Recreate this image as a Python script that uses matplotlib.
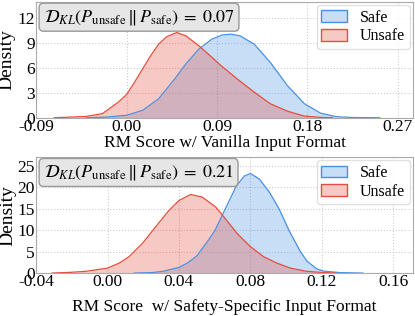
import matplotlib
matplotlib.use('Agg')
import matplotlib.pyplot as plt
from matplotlib.patches import Patch

plt.rcParams['font.family'] = 'serif'
plt.rcParams['font.serif'] = ['Liberation Serif', 'DejaVu Serif']
plt.rcParams['mathtext.fontset'] = 'stix'
plt.rcParams['axes.unicode_minus'] = False

# density curves
top_safe_x = [-0.04, -0.02, 0.0, 0.016, 0.032, 0.048, 0.059, 0.072, 0.085, 0.095,
              0.104, 0.113, 0.127, 0.143, 0.160, 0.177, 0.193, 0.209, 0.226, 0.252]
top_safe_y = [0, 0.08, 0.3, 0.9, 2.3, 4.7, 6.5, 8.3, 9.5, 10.0,
              10.1, 9.9, 8.9, 6.7, 3.9, 1.7, 0.56, 0.12, 0.03, 0]
top_unsafe_x = [-0.072, -0.04, -0.024, -0.008, 0.0, 0.008, 0.016, 0.024, 0.032, 0.040, 0.050,
                0.059, 0.072, 0.085, 0.094, 0.110, 0.127, 0.143, 0.160, 0.177, 0.193, 0.205]
top_unsafe_y = [0, 0.16, 0.5, 1.9, 2.8, 4.3, 5.9, 7.5, 8.9, 9.8, 10.3,
                9.9, 8.7, 7.3, 6.3, 4.7, 3.1, 1.7, 0.8, 0.2, 0.05, 0]

bot_safe_x = [0.015, 0.025, 0.031, 0.040, 0.045, 0.050, 0.055, 0.060, 0.066, 0.072, 0.0766, 0.080,
              0.085, 0.0907, 0.096, 0.102, 0.108, 0.1116, 0.117, 0.121, 0.130, 0.1395, 0.143]
bot_safe_y = [0, 0.1, 0.4, 1.3, 2.4, 4.0, 6.8, 9.8, 15.0, 20.2, 22.6, 23.2,
              21.9, 18.8, 15.0, 9.6, 5.0, 2.8, 1.0, 0.45, 0.1, 0.02, 0]
bot_unsafe_x = [-0.031, -0.021, -0.012, 0.0, 0.0065, 0.012, 0.0195, 0.027, 0.0344, 0.040, 0.0465,
                0.053, 0.0605, 0.0655, 0.0726, 0.080, 0.0874, 0.0949, 0.1023, 0.1116, 0.121, 0.128]
bot_unsafe_y = [0, 0.15, 0.4, 1.15, 2.3, 3.8, 6.9, 10.8, 14.6, 16.9, 18.3,
                17.7, 15.4, 12.9, 9.2, 6.15, 3.8, 2.3, 1.15, 0.4, 0.1, 0]

kl_values = [0.07, 0.21]
xlabels = ['RM Score w/ Vanilla Input Format', 'RM Score  w/ Safety-Specific Input Format']
xticks = [[-0.09, 0.0, 0.09, 0.18, 0.27], [-0.04, 0.0, 0.04, 0.08, 0.12, 0.16]]
yticks = [[0, 3, 6, 9, 12], [0, 5, 10, 15, 20, 25]]

safe_color = '#4a90e2'
unsafe_color = '#e74c3c'

fig, axes = plt.subplots(2, 1, figsize=(4.15, 3.16), dpi=100)
fig.subplots_adjust(left=0.087, right=0.995, top=0.994, bottom=0.136, hspace=0.34)

curves = [(top_safe_x, top_safe_y, top_unsafe_x, top_unsafe_y),
          (bot_safe_x, bot_safe_y, bot_unsafe_x, bot_unsafe_y)]
xlims = [(-0.09, 0.285), (-0.04, 0.171)]
ylims = [(0, 14), (0, 27)]
labelpads = [0, 6]

for i, ax in enumerate(axes):
    sx, sy, ux, uy = curves[i]
    ax.fill_between(sx, sy, color=safe_color, alpha=0.3, lw=0)
    ax.plot(sx, sy, color=safe_color, lw=0.9)
    ax.fill_between(ux, uy, color=unsafe_color, alpha=0.3, lw=0)
    ax.plot(ux, uy, color=unsafe_color, lw=0.9)

    ax.set_xlim(*xlims[i])
    ax.set_ylim(*ylims[i])
    ax.set_xticks(xticks[i])
    ax.set_xticklabels(['%.2f' % t for t in xticks[i]])
    ax.set_yticks(yticks[i])
    ax.tick_params(length=0, pad=1, labelsize=12.5)
    ax.grid(True, ls=':', color='#cccccc', lw=0.8)
    ax.set_axisbelow(True)
    for s in ax.spines.values():
        s.set_color('#aaaaaa')
        s.set_linewidth(0.8)
    ax.set_ylabel('Density', fontsize=14, labelpad=1)
    ax.set_xlabel(xlabels[i], fontsize=12.5, labelpad=labelpads[i])

    leg = ax.legend(handles=[
        Patch(facecolor=(0.29, 0.565, 0.886, 0.3), edgecolor=safe_color, lw=1),
        Patch(facecolor=(0.906, 0.298, 0.235, 0.3), edgecolor=unsafe_color, lw=1)],
        labels=['Safe', 'Unsafe'], loc='upper right', fontsize=11.5,
        borderaxespad=0.2, handlelength=1.6, handleheight=0.75, handletextpad=0.8,
        labelspacing=0.15, borderpad=0.3, framealpha=0.9)
    leg.get_frame().set_edgecolor('#dddddd')

    ax.text(0.02, 0.95,
            r'$\mathcal{D}_{KL}\left(P_{\mathrm{unsafe}}\,\Vert\,P_{\mathrm{safe}}\right)\;=\;%.2f$' % kl_values[i],
            transform=ax.transAxes, ha='left', va='top', fontsize=13,
            bbox=dict(boxstyle='round,pad=0.25', facecolor='#e6e6e6', edgecolor='#999999', lw=1))

fig.savefig('out.png', dpi=100)
